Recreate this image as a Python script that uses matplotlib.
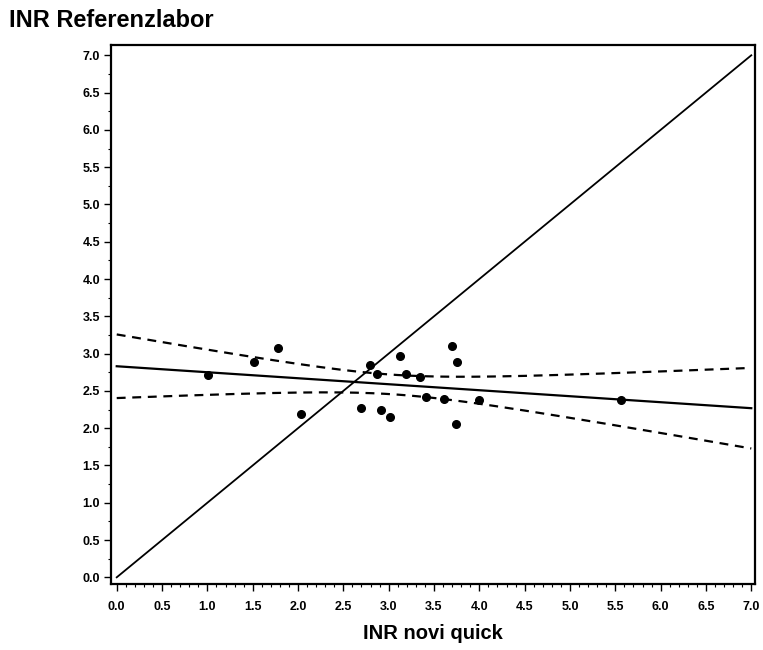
import numpy as np
import matplotlib
matplotlib.use("Agg")
import matplotlib.pyplot as plt
from matplotlib.ticker import MultipleLocator

plt.rcParams["font.family"] = ["Liberation Sans", "DejaVu Sans"]

# INR values
inr_novi = np.array([1.01, 1.51, 1.78, 2.03, 2.70, 2.79, 2.87, 2.91, 3.02,
                     3.12, 3.19, 3.35, 3.41, 3.61, 3.70, 3.75, 3.74, 4.00, 5.56])
inr_ref = np.array([2.71, 2.89, 3.08, 2.19, 2.27, 2.85, 2.73, 2.25, 2.15,
                    2.97, 2.72, 2.68, 2.42, 2.39, 3.10, 2.89, 2.06, 2.38, 2.38])
t_crit = 1.740  # t(0.95, df=17), 90% band

# linear regression with confidence band of the mean
slope, intercept = np.polyfit(inr_novi, inr_ref, 1)
n = len(inr_novi)
resid = inr_ref - (slope * inr_novi + intercept)
s = np.sqrt(np.sum(resid ** 2) / (n - 2))
xbar = inr_novi.mean()
sxx = np.sum((inr_novi - xbar) ** 2)
xs = np.linspace(0, 7, 200)
fit = slope * xs + intercept
hw = t_crit * s * np.sqrt(1 / n + (xs - xbar) ** 2 / sxx)

fig = plt.figure(figsize=(7.63, 6.5), dpi=100)
ax = fig.add_axes([0.1455, 0.1015, 0.8445, 0.8295])

ax.plot([0, 7], [0, 7], color="black", linewidth=1.3)
ax.plot(xs, fit, color="black", linewidth=1.6)
ax.plot(xs, fit + hw, color="black", linewidth=1.6, linestyle=(0, (4, 3)))
ax.plot(xs, fit - hw, color="black", linewidth=1.6, linestyle=(0, (4, 3)))
ax.plot(inr_novi, inr_ref, linewidth=0, marker="o", markersize=5.5, color="black")

ax.set_xlim(-0.063, 7.045)
ax.set_ylim(-0.09, 7.14)
ax.xaxis.set_major_locator(MultipleLocator(0.5))
ax.xaxis.set_minor_locator(MultipleLocator(0.1))
ax.yaxis.set_major_locator(MultipleLocator(0.5))
ax.yaxis.set_minor_locator(MultipleLocator(0.25))
ax.xaxis.set_major_formatter(lambda v, p: f"{v:.1f}")
ax.yaxis.set_major_formatter(lambda v, p: f"{v:.1f}")

for sp in ax.spines.values():
    sp.set_linewidth(1.6)
ax.tick_params(which="major", length=5, width=1.0, labelsize=9, pad=7)
ax.tick_params(which="minor", length=2.5, width=0.8)
for lab in ax.get_xticklabels() + ax.get_yticklabels():
    lab.set_fontweight("bold")
ax.tick_params(axis="y", pad=3)

ax.set_xlabel("INR novi quick", fontsize=14.5, fontweight="bold", labelpad=8)
fig.text(0.012, 0.968, "INR Referenzlabor", fontsize=17, fontweight="bold",
         ha="left", va="center")

fig.savefig("out.png", dpi=100)
